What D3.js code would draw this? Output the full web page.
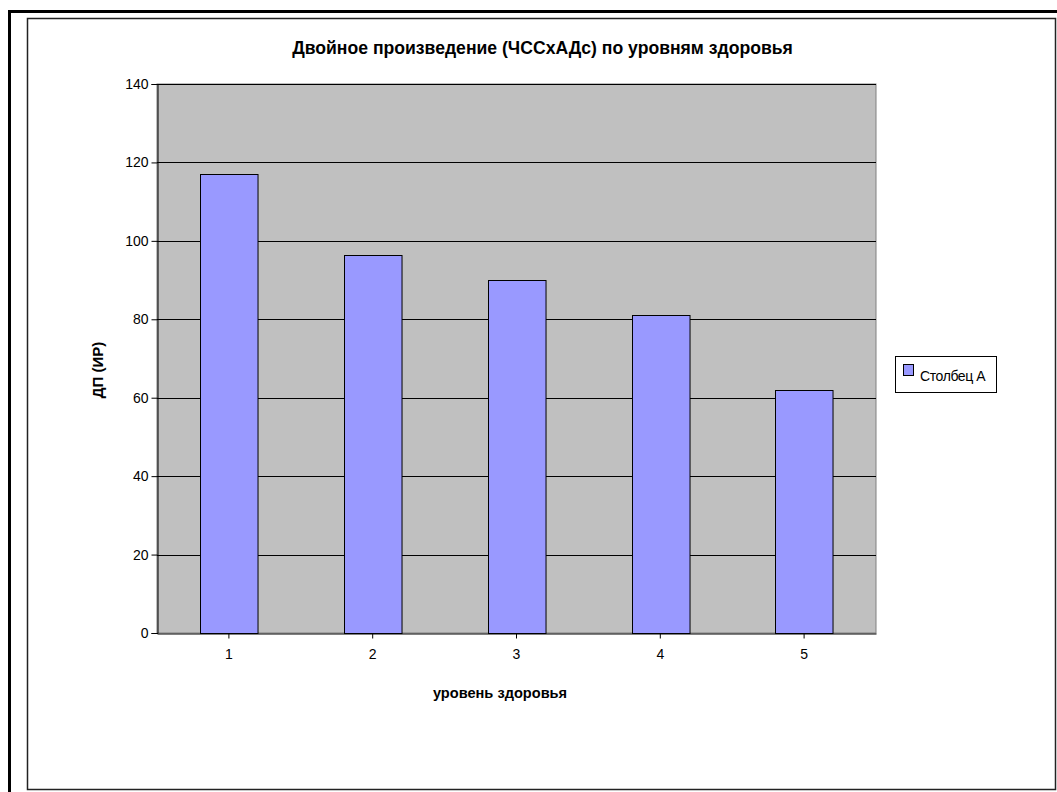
<!DOCTYPE html>
<html>
<head>
<meta charset="utf-8">
<script src="https://cdn.jsdelivr.net/npm/d3@7"></script>
<style>
  html, body { margin: 0; padding: 0; background: #fff; }
  svg { display: block; }
  text { font-family: "Liberation Sans", Arial, sans-serif; fill: #000; }
</style>
</head>
<body>
<svg id="chart" width="1057" height="792"></svg>
<script>
// Health levels and the double product (HR x SBP) per level
const categories = ["1", "2", "3", "4", "5"];
const values = [117, 96.3, 90, 81.2, 62];
const yTicks = [0, 20, 40, 60, 80, 100, 120, 140];
const seriesName = "Столбец А";
const titleText = "Двойное произведение (ЧССхАДс) по уровням здоровья";
const xTitle = "уровень здоровья";
const yTitle = "ДП (ИР)";

const svg = d3.select("#chart");

// page frame
svg.append("line").attr("x1", 8).attr("x2", 1057).attr("y1", 11.5).attr("y2", 11.5)
  .attr("stroke", "#000").attr("stroke-width", 3);
svg.append("line").attr("x1", 9.5).attr("x2", 9.5).attr("y1", 10).attr("y2", 792)
  .attr("stroke", "#000").attr("stroke-width", 3);
svg.append("rect").attr("x", 27.5).attr("y", 18.5).attr("width", 1028).attr("height", 771)
  .attr("fill", "#fff").attr("stroke", "#222").attr("stroke-width", 1.5);

const plot = { left: 157, right: 876, top: 84, bottom: 633 };

const x = d3.scaleBand()
  .domain(categories)
  .range([plot.left, plot.right])
  .paddingInner(0.6)
  .paddingOuter(0.3);

const y = d3.scaleLinear()
  .domain([0, 140])
  .range([plot.bottom, plot.top]);

// plot area background
svg.append("rect")
  .attr("x", plot.left).attr("y", plot.top)
  .attr("width", plot.right - plot.left).attr("height", plot.bottom - plot.top)
  .attr("fill", "#c0c0c0").attr("stroke", "#808080").attr("stroke-width", 1);

// horizontal gridlines
svg.append("g")
  .selectAll("line")
  .data(yTicks.filter(d => d > 0))
  .join("line")
  .attr("x1", plot.left).attr("x2", plot.right)
  .attr("y1", d => Math.round(y(d)) + 0.5).attr("y2", d => Math.round(y(d)) + 0.5)
  .attr("stroke", "#000").attr("stroke-width", 1);

// bars
svg.append("g")
  .selectAll("rect")
  .data(values)
  .join("rect")
  .attr("x", (d, i) => Math.round(x(categories[i])) + 0.5)
  .attr("y", d => Math.round(y(d)) + 0.5)
  .attr("width", x.bandwidth())
  .attr("height", d => Math.round(y(0)) - Math.round(y(d)))
  .attr("fill", "#9999ff")
  .attr("stroke", "#000").attr("stroke-width", 1);

// y axis
const yAxis = svg.append("g")
  .attr("transform", `translate(${plot.left + 0.5},0)`)
  .call(d3.axisLeft(y).tickValues(yTicks).tickSize(6).tickPadding(3).tickFormat(d3.format("d")));
yAxis.select(".domain").attr("stroke", "#000");
yAxis.selectAll(".tick line").attr("stroke", "#000");
yAxis.selectAll("text").attr("font-size", 14).attr("font-family", "Liberation Sans, Arial, sans-serif").attr("fill", "#000");

// x axis
const xAxis = svg.append("g")
  .attr("transform", `translate(0,${plot.bottom + 0.5})`)
  .call(d3.axisBottom(x).tickSize(5).tickPadding(11).tickSizeOuter(0));
xAxis.select(".domain").attr("stroke", "#000");
xAxis.selectAll(".tick line").attr("stroke", "#000");
xAxis.selectAll("text").attr("font-size", 14).attr("font-family", "Liberation Sans, Arial, sans-serif").attr("fill", "#000");

// titles
svg.append("text")
  .attr("x", 542.5).attr("y", 54)
  .attr("text-anchor", "middle")
  .attr("font-size", 17.6).attr("font-weight", "bold")
  .text(titleText);

svg.append("text")
  .attr("x", 500).attr("y", 698)
  .attr("text-anchor", "middle")
  .attr("font-size", 14.6).attr("font-weight", "bold")
  .text(xTitle);

svg.append("text")
  .attr("transform", "translate(103,370) rotate(-90)")
  .attr("text-anchor", "middle")
  .attr("font-size", 15).attr("font-weight", "bold")
  .text(yTitle);

// legend
const legend = svg.append("g").attr("transform", "translate(895,356)");
legend.append("rect")
  .attr("x", 0.5).attr("y", 0.5).attr("width", 101).attr("height", 36)
  .attr("fill", "#fff").attr("stroke", "#000").attr("stroke-width", 1);
legend.append("rect")
  .attr("x", 8.5).attr("y", 8.5).attr("width", 10).attr("height", 11)
  .attr("fill", "#9999ff").attr("stroke", "#000").attr("stroke-width", 1);
legend.append("text")
  .attr("x", 25).attr("y", 24.5)
  .attr("font-size", 14)
  .attr("letter-spacing", -0.4)
  .text(seriesName);
</script>
</body>
</html>
